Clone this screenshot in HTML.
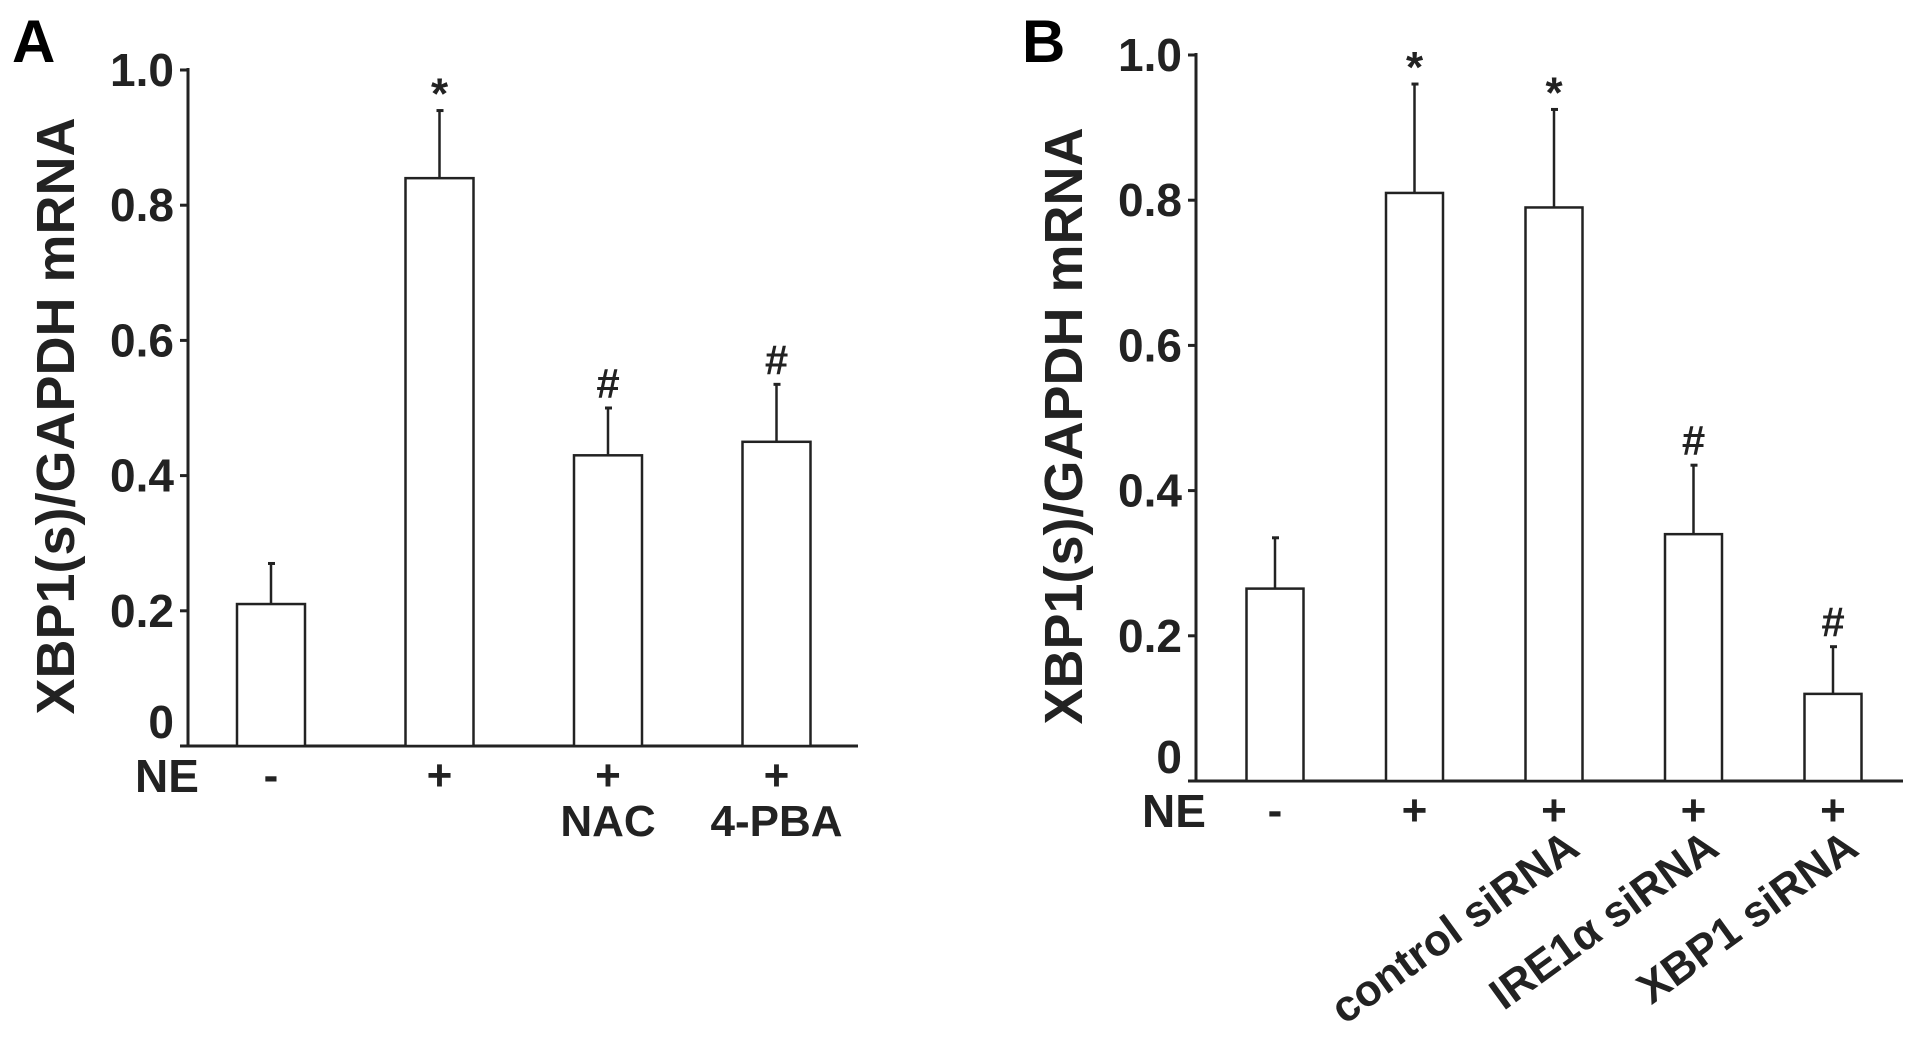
<!DOCTYPE html>
<html><head><meta charset="utf-8"><style>
html,body{margin:0;padding:0;background:#fff;}
svg{display:block;font-family:"Liberation Sans",Arial,sans-serif;font-weight:bold;}
</style></head><body>
<svg id="chart" width="1913" height="1045" viewBox="0 0 1913 1045" xmlns="http://www.w3.org/2000/svg">
<text x="12" y="62" font-size="60">A</text>
<text x="1022" y="62" font-size="60">B</text>
<g id="pa"></g>
<g id="pb"></g>
</svg>
<script>
const aValues = [0.21, 0.84, 0.43, 0.45];
const aErrTops = [0.27, 0.94, 0.50, 0.535];
const aMarks = ["", "*", "#", "#"];
const aSigns = ["-", "+", "+", "+"];
const aTreat = ["", "", "NAC", "4-PBA"];
const bValues = [0.265, 0.81, 0.79, 0.34, 0.12];
const bErrTops = [0.335, 0.96, 0.925, 0.435, 0.185];
const bMarks = ["", "*", "*", "#", "#"];
const bSigns = ["-", "+", "+", "+", "+"];
const bTreat = ["", "control siRNA", "IRE1α siRNA", "XBP1 siRNA", ""];
const ticks = [0, 0.2, 0.4, 0.6, 0.8, 1.0];
const tickLabels = ["0", "0.2", "0.4", "0.6", "0.8", "1.0"];
const NS = "http://www.w3.org/2000/svg";
function mk(p, t, a, txt){const e=document.createElementNS(NS,t);for(const k in a)e.setAttribute(k,a[k]);if(txt!==undefined)e.textContent=txt;p.appendChild(e);return e;}
function panel(g, cfg, vals, errs, marks, signs, treat, rotated){
  const y = v => cfg.y0 - v*(cfg.y0-cfg.y1);
  let e = mk(g,'line',{x1:cfg.ax,y1:cfg.y1-2,x2:cfg.ax,y2:cfg.y0,stroke:'#222','stroke-width':3});
   
  e = mk(g,'line',{x1:cfg.ax,y1:cfg.y0,x2:cfg.xend,y2:cfg.y0,stroke:'#222','stroke-width':3});
   
  ticks.forEach((t,i)=>{
    const tk = mk(g,'line',{x1:cfg.ax-8,y1:y(t),x2:cfg.ax,y2:y(t),stroke:'#222','stroke-width':3});
     
    const off = t===0 ? -8 : 16;
    const tl = mk(g,'text',{x:cfg.ax-14,y:y(t)+off,'font-size':46,'text-anchor':'end',fill:'#222'},tickLabels[i]);
     
  });
  const yt = mk(g,'text',{x:0,y:0,'font-size':54,'text-anchor':'middle',fill:'#222',transform:`translate(${cfg.titleX},${(cfg.y0+cfg.y1)/2+8}) rotate(-90)`},'XBP1(s)/GAPDH mRNA');
   
  const ne = mk(g,'text',{x:cfg.neX,y:cfg.y0+46,'font-size':46,fill:'#222'},'NE');
   
  vals.forEach((v,i)=>{
    const cx = cfg.c0 + i*cfg.step, w = cfg.bw;
    const b = mk(g,'rect',{x:cx-w/2,y:y(v),width:w,height:cfg.y0-y(v),fill:'#fff',stroke:'#222','stroke-width':2.5});
     
    const eb = mk(g,'line',{x1:cx,y1:y(v),x2:cx,y2:y(errs[i]),stroke:'#222','stroke-width':2.5});
     
    const ec = mk(g,'line',{x1:cx-3,y1:y(errs[i]),x2:cx+4,y2:y(errs[i]),stroke:'#222','stroke-width':3});
     
    if(marks[i]){
      const m = mk(g,'text',{x:cx,y:y(errs[i])-(marks[i]=='*'?2:10),'font-size':marks[i]=='*'?44:42,'text-anchor':'middle',fill:'#222'},marks[i]);
       
    }
    const s = mk(g,'text',{x:cx,y:cfg.y0+44,'font-size':44,'text-anchor':'middle',fill:'#222'},signs[i]);
     
    if(treat[i]){
      let t;
      if(!rotated) t = mk(g,'text',{x:cx,y:cfg.y0+90,'font-size':44,'text-anchor':'middle',fill:'#222'},treat[i]);
      else t = mk(g,'text',{x:0,y:0,'font-size':44,'text-anchor':'end',fill:'#222',transform:`translate(${cx+cfg.step*1.2},${cfg.y0+72}) rotate(-36)`},treat[i]);
       
    }
  });
}
panel(document.getElementById('pa'),{ax:188,y1:70,y0:746,xend:858,c0:271,step:168.5,bw:68,titleX:74,neX:135},aValues,aErrTops,aMarks,aSigns,aTreat,false);
panel(document.getElementById('pb'),{ax:1196,y1:55,y0:781,xend:1903,c0:1275,step:139.5,bw:57,titleX:1082,neX:1142},bValues,bErrTops,bMarks,bSigns,bTreat,true);
</script>
</body></html>
